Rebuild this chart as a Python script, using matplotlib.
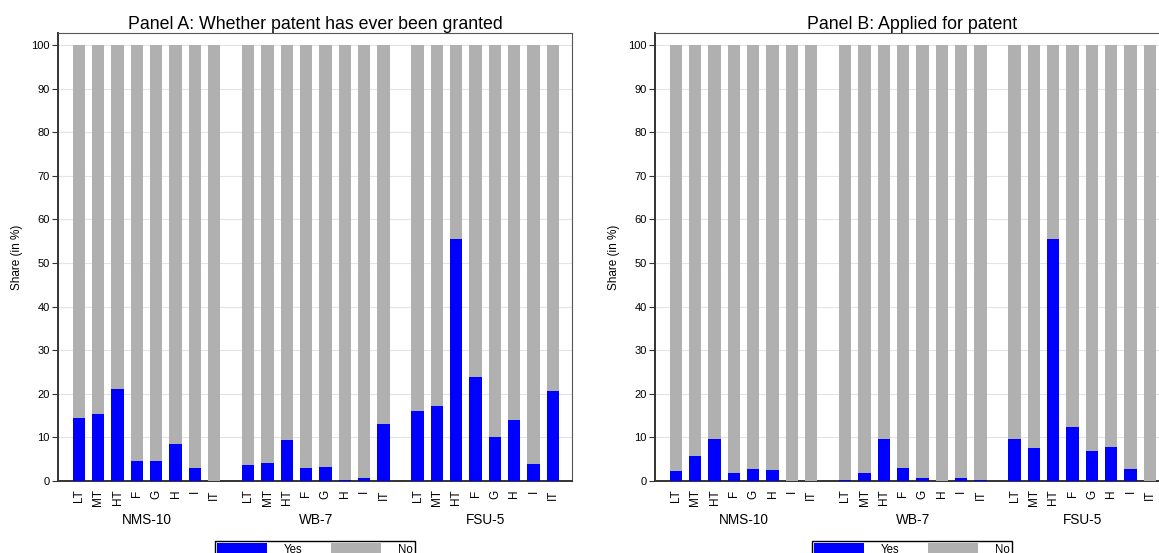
import numpy as np
import matplotlib
matplotlib.use("Agg")
import matplotlib.pyplot as plt
from matplotlib.patches import Patch

plt.rcParams['font.family'] = ['Liberation Sans', 'DejaVu Sans']

# categories
groups = ['NMS-10', 'WB-7', 'FSU-5']
sectors = ['LT', 'MT', 'HT', 'F', 'G', 'H', 'I', 'IT']

# share "Yes" (in %), per group, per sector
granted_nms = [14.4, 15.4, 21.2, 4.7, 4.7, 8.5, 2.9, 0.0]
granted_wb = [3.6, 4.1, 9.5, 2.9, 3.2, 0.2, 0.6, 13.1]
granted_fsu = [16.1, 17.2, 55.5, 23.8, 10.1, 13.9, 4.0, 20.6]

applied_nms = [2.2, 5.7, 9.7, 1.9, 2.8, 2.6, 0.0, 0.0]
applied_wb = [0.2, 1.8, 9.6, 3.0, 0.8, 0.1, 0.6, 0.2]
applied_fsu = [9.6, 7.5, 55.5, 12.3, 6.9, 7.8, 2.7, 0.0]

panels = [
    ('Panel A: Whether patent has ever been granted', [granted_nms, granted_wb, granted_fsu]),
    ('Panel B: Applied for patent', [applied_nms, applied_wb, applied_fsu]),
]

BLUE = '#0000ff'
GREY = '#b0b0b0'
gap = 1.76

fig = plt.figure(figsize=(11.59, 5.53), dpi=100)
lefts = [58 / 1159, 655 / 1159]

for (title, data), left in zip(panels, lefts):
    ax = fig.add_axes([left, 1 - 481 / 553, 514 / 1159, 448 / 553])
    xs, yes, labels, centers = [], [], [], []
    for g, vals in enumerate(data):
        pos = np.arange(len(sectors)) + g * (len(sectors) - 1 + gap)
        xs.extend(pos)
        yes.extend(vals)
        labels.extend(sectors)
        centers.append(pos.mean())
    yes = np.array(yes)
    ax.bar(xs, yes, width=0.635, color=BLUE, zorder=3)
    ax.bar(xs, 100 - yes, bottom=yes, width=0.635, color=GREY, zorder=3)

    ax.set_xlim(-1.085, xs[-1] + 0.99)
    ax.set_ylim(0, 102.75)
    ax.set_yticks(np.arange(0, 101, 10))
    ax.yaxis.grid(True, color='#e4e4e4', lw=0.8, zorder=0)
    ax.set_xticks(xs)
    ax.set_xticklabels(labels, rotation=90, fontsize=8.5)
    ax.tick_params(axis='x', length=0, pad=6)
    ax.tick_params(axis='y', labelsize=8, length=4, width=0.8, color='#333333', pad=2)
    ax.set_ylabel('Share (in %)', fontsize=8.5, labelpad=6)
    ax.set_title(title, fontsize=12.8, pad=3)

    for s in ['top', 'right']:
        ax.spines[s].set_color('#555555')
        ax.spines[s].set_linewidth(0.8)
    for s in ['left', 'bottom']:
        ax.spines[s].set_color('#333333')
        ax.spines[s].set_linewidth(1.4)

    for c, name in zip(centers, groups):
        ax.text(c, -0.088, name, transform=ax.get_xaxis_transform(),
                ha='center', va='center', fontsize=9.8)

    # legend sits at the bottom edge, partly cut off as in the original
    handles = [Patch(facecolor=BLUE, edgecolor='none', label='Yes'),
               Patch(facecolor=GREY, edgecolor='none', label='No')]
    bb = ax.get_position()
    fig.legend(handles=handles, loc='upper center', ncol=2,
               bbox_to_anchor=(bb.x0 + 257 / 1159, 1 - 541 / 553),
               fontsize=8.3, frameon=True, fancybox=False, edgecolor='black',
               framealpha=1, handlelength=4.3, handleheight=1.2,
               handletextpad=1.5, columnspacing=2.5, borderpad=0.15,
               borderaxespad=0)

fig.savefig('out.png', dpi=100)
